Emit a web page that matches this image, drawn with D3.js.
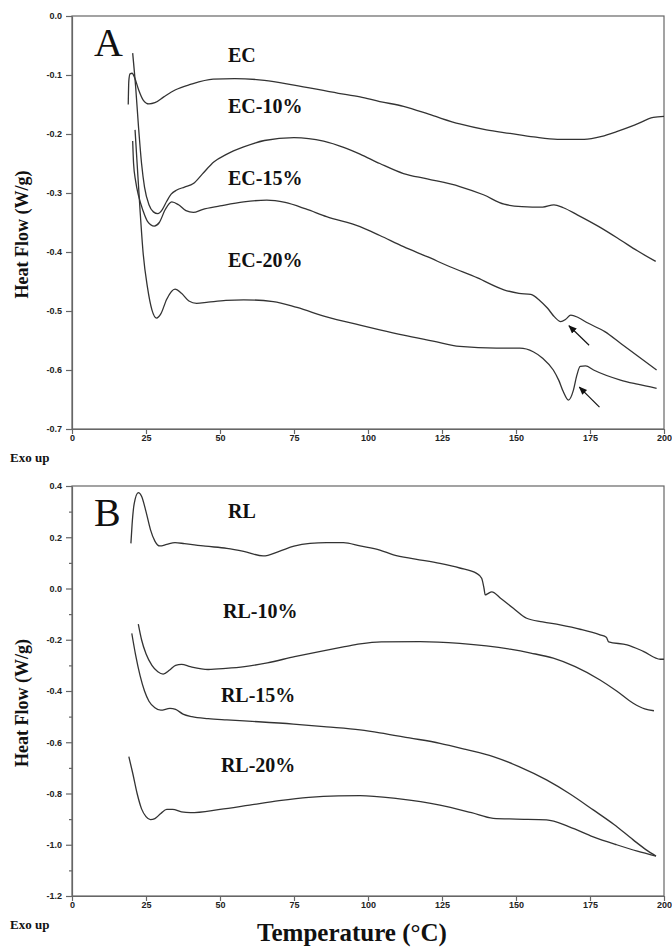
<!DOCTYPE html>
<html>
<head>
<meta charset="utf-8">
<script src="https://cdn.jsdelivr.net/npm/d3@7"></script>
<style>
  body { margin: 0; background: #fff; }
  .tick text { font-family: "Liberation Sans", Arial, sans-serif; font-weight: bold; font-size: 9px; fill: #222; }
  .tick line, .domain { stroke: #666; stroke-width: 1.2; }
  .serif { font-family: "Liberation Serif", "Times New Roman", serif; font-weight: bold; fill: #111; }
</style>
</head>
<body>
<div id="chart"></div>
<script>
// DSC curves, [temperature °C, heat flow W/g]
const ec = [[19.0,-0.150],[19.2,-0.110],[19.6,-0.098],[20.3,-0.097],[21.2,-0.105],[22.5,-0.125],[24,-0.142],[26,-0.149],[28,-0.147],[31,-0.137],[35,-0.125],[40,-0.116],[47.7,-0.107],[55,-0.106],[65,-0.109],[75,-0.117],[90,-0.131],[97.3,-0.137],[104,-0.145],[112,-0.153],[122,-0.169],[131,-0.183],[140,-0.193],[148,-0.199],[156,-0.205],[164,-0.209],[173,-0.209],[179,-0.204],[184,-0.196],[190,-0.185],[196.4,-0.172],[200,-0.170]];
const ec10 = [[20.5,-0.063],[21.5,-0.120],[22.5,-0.190],[23.5,-0.250],[24.5,-0.290],[26,-0.320],[27.5,-0.332],[29,-0.335],[30.5,-0.328],[32,-0.314],[33.5,-0.302],[35.4,-0.295],[38,-0.290],[41,-0.284],[44,-0.268],[48,-0.247],[52,-0.235],[58,-0.222],[65,-0.211],[75,-0.206],[85,-0.212],[92,-0.223],[97.3,-0.234],[104,-0.250],[112,-0.267],[120,-0.276],[131,-0.289],[139,-0.303],[146,-0.319],[152,-0.323],[159,-0.324],[162.8,-0.320],[166,-0.325],[170.7,-0.337],[178,-0.357],[185.4,-0.380],[191,-0.398],[197.2,-0.416]];
const ec15 = [[20.5,-0.212],[20.8,-0.250],[21.5,-0.280],[22.5,-0.305],[24,-0.330],[25.5,-0.348],[27.8,-0.356],[29.5,-0.350],[31.5,-0.328],[33.7,-0.315],[36,-0.320],[38.5,-0.330],[41,-0.333],[44,-0.328],[50,-0.322],[58,-0.315],[65.8,-0.312],[72,-0.316],[79,-0.327],[86,-0.340],[97.3,-0.357],[104,-0.372],[112,-0.391],[120,-0.408],[127.7,-0.425],[137,-0.444],[145.9,-0.464],[151,-0.470],[155,-0.472],[158,-0.482],[160.6,-0.495],[163,-0.510],[165.1,-0.518],[166.8,-0.514],[168.5,-0.507],[171,-0.511],[174.1,-0.520],[180,-0.535],[185.4,-0.555],[191,-0.576],[197.5,-0.600]];
const ec20 = [[21.3,-0.193],[22,-0.250],[23,-0.330],[24,-0.400],[25.5,-0.460],[27,-0.498],[28.6,-0.512],[30,-0.505],[32,-0.480],[34.8,-0.463],[37,-0.470],[39.5,-0.483],[42.1,-0.487],[46,-0.485],[52,-0.482],[58,-0.481],[68,-0.484],[76,-0.494],[86,-0.510],[97.3,-0.524],[104,-0.532],[112,-0.541],[122,-0.551],[131,-0.560],[143.4,-0.563],[151.3,-0.563],[155.8,-0.569],[159,-0.580],[162.6,-0.600],[164.5,-0.618],[166,-0.637],[167.7,-0.651],[169.4,-0.634],[170.5,-0.610],[171.7,-0.594],[173.5,-0.593],[176.2,-0.600],[185.3,-0.617],[191,-0.624],[197.5,-0.631]];

const rl = [[19.9,0.176],[20.3,0.250],[21,0.330],[22.4,0.374],[23.5,0.360],[25,0.300],[26.5,0.230],[28,0.185],[29.7,0.166],[32,0.172],[34.8,0.179],[38,0.175],[45,0.165],[52.3,0.157],[58,0.145],[64.6,0.127],[70,0.145],[75,0.165],[80.4,0.176],[86,0.179],[91.7,0.179],[97.3,0.166],[104,0.150],[108.6,0.131],[116,0.115],[124.3,0.098],[131,0.080],[136.7,0.059],[138.4,0.040],[139.2,0.000],[139.6,-0.025],[140.5,-0.020],[141.8,-0.013],[145,-0.040],[149.1,-0.077],[153.6,-0.116],[159,-0.130],[164.9,-0.142],[172,-0.160],[178.4,-0.181],[180.5,-0.190],[181.3,-0.208],[187.5,-0.220],[193,-0.245],[198.8,-0.276],[200,-0.276]];
const rl10 = [[22.4,-0.139],[23.5,-0.200],[25,-0.255],[27,-0.300],[29,-0.325],[30.8,-0.334],[33,-0.318],[35,-0.300],[37,-0.296],[40,-0.305],[46,-0.316],[52,-0.312],[58.3,-0.305],[66,-0.290],[75.2,-0.266],[84,-0.245],[92.1,-0.227],[97.3,-0.216],[104.5,-0.208],[117.6,-0.207],[131,-0.214],[140,-0.224],[148,-0.237],[155,-0.252],[162.6,-0.272],[170,-0.305],[178.4,-0.357],[184,-0.400],[189.6,-0.448],[193.5,-0.470],[196.6,-0.477]];
const rl15 = [[20.2,-0.175],[21.5,-0.260],[23,-0.340],[24.5,-0.400],[26,-0.440],[28,-0.465],[30,-0.475],[33.1,-0.468],[35,-0.472],[37.5,-0.490],[40.5,-0.500],[46,-0.508],[52.3,-0.513],[63,-0.520],[74.8,-0.529],[86,-0.540],[97.3,-0.552],[104,-0.563],[114,-0.583],[124.3,-0.604],[133,-0.628],[142.3,-0.656],[151,-0.695],[160.3,-0.747],[168,-0.800],[176.1,-0.864],[183,-0.920],[189.6,-0.981],[194,-1.020],[197.3,-1.044]];
const rl20 = [[19.2,-0.656],[20.5,-0.720],[22,-0.800],[23.5,-0.860],[25,-0.890],[26.5,-0.902],[28,-0.898],[30,-0.878],[32,-0.862],[34,-0.862],[37,-0.872],[40,-0.875],[50,-0.862],[60,-0.845],[70,-0.828],[80,-0.815],[90,-0.809],[97.3,-0.808],[110,-0.820],[124.3,-0.845],[135,-0.875],[142.3,-0.897],[150,-0.900],[160.3,-0.903],[168,-0.930],[176.1,-0.969],[184,-1.000],[191,-1.025],[197.3,-1.044]];

// labels placed in data coords
const labelsA = [["EC", 52.7, -0.078], ["EC-10%", 52.7, -0.164], ["EC-15%", 52.7, -0.286], ["EC-20%", 52.7, -0.425]];
const labelsB = [["RL", 52.7, 0.275], ["RL-10%", 51, -0.115], ["RL-15%", 50.3, -0.443], ["RL-20%", 50.3, -0.716]];
// arrows [tailT, tailV, headT, headV]
const arrowsA = [[174.7, -0.558, 167.9, -0.525], [178.2, -0.663, 171.4, -0.629]];

const xTicks = [0, 25, 50, 75, 100, 125, 150, 175, 200];
const yTicksA = [0, -0.1, -0.2, -0.3, -0.4, -0.5, -0.6, -0.7];
const yTicksB = [0.4, 0.2, 0, -0.2, -0.4, -0.6, -0.8, -1.0, -1.2];
const yMinorB = [0.3, 0.1, -0.1, -0.3, -0.5, -0.7, -0.9, -1.1];

const W = 672, H = 947;
const left = 72, right = 664;

const svg = d3.select('#chart').append('svg')
  .attr('width', W).attr('height', H);

svg.append('defs').append('marker')
  .attr('id', 'head')
  .attr('viewBox', '0 0 10 10')
  .attr('refX', 9).attr('refY', 5)
  .attr('markerWidth', 7).attr('markerHeight', 7)
  .attr('orient', 'auto')
  .append('path').attr('d', 'M0,1 L10,5 L0,9 Z').attr('fill', '#111');

const x = d3.scaleLinear().domain([0, 200]).range([left, right]);

const panel = (top, bottom, yDomain, yTicks, series, labels, letter, minor) => {
  const y = d3.scaleLinear().domain(yDomain).range([bottom, top]);
  const g = svg.append('g');

  // frame
  g.append('rect')
    .attr('x', left).attr('y', top)
    .attr('width', right - left).attr('height', bottom - top)
    .attr('fill', 'none').attr('stroke', '#666').attr('stroke-width', 1.2);

  g.append('g')
    .attr('transform', `translate(${left},0)`)
    .call(d3.axisLeft(y).tickValues(yTicks).tickSize(6).tickSizeOuter(0)
      .tickFormat((d) => d.toFixed(1)))
    .call((a) => a.selectAll('.tick text').attr('dx', -1));

  if (minor) {
    g.append('g')
      .attr('transform', `translate(${left},0)`)
      .call(d3.axisLeft(y).tickValues(minor).tickSize(3).tickFormat(''))
      .call((a) => a.select('.domain').remove());
  }

  g.append('g')
    .attr('transform', `translate(0,${bottom})`)
    .call(d3.axisBottom(x).tickValues(xTicks).tickSize(5).tickSizeOuter(0)
      .tickFormat(d3.format('d')))
    .call((a) => a.selectAll('.tick text').attr('dy', '0.45em'));

  const line = d3.line()
    .x((d) => x(d[0]))
    .y((d) => y(d[1]))
    .curve(d3.curveMonotoneX);

  g.selectAll('path.curve')
    .data(series)
    .enter()
    .append('path')
    .attr('class', 'curve')
    .attr('d', line)
    .attr('fill', 'none')
    .attr('stroke', '#333')
    .attr('stroke-width', 1.3);

  g.selectAll('text.lab')
    .data(labels)
    .enter()
    .append('text')
    .attr('class', 'lab serif')
    .attr('x', (d) => x(d[1]))
    .attr('y', (d) => y(d[2]))
    .attr('font-size', 20)
    .text((d) => d[0]);

  g.append('text')
    .attr('class', 'serif')
    .attr('x', left + 22).attr('y', top + 40)
    .attr('font-size', 40)
    .style('font-weight', 'normal')
    .text(letter);

  g.append('text')
    .attr('class', 'serif')
    .attr('transform', `translate(28,${(top + bottom) / 2 + 12}) rotate(-90)`)
    .attr('text-anchor', 'middle')
    .attr('font-size', 18)
    .text('Heat Flow (W/g)');

  g.append('text')
    .attr('class', 'serif')
    .attr('x', 10).attr('y', bottom + 33)
    .attr('font-size', 13)
    .text('Exo up');

  return y;
};

const yA = panel(16, 429, [-0.7, 0], yTicksA, [ec, ec10, ec15, ec20], labelsA, 'A', null);
panel(486, 896, [-1.2, 0.4], yTicksB, [rl, rl10, rl15, rl20], labelsB, 'B', yMinorB);

svg.selectAll('line.arrow')
  .data(arrowsA)
  .enter()
  .append('line')
  .attr('class', 'arrow')
  .attr('x1', (d) => x(d[0])).attr('y1', (d) => yA(d[1]))
  .attr('x2', (d) => x(d[2])).attr('y2', (d) => yA(d[3]))
  .attr('stroke', '#111').attr('stroke-width', 1.2)
  .attr('marker-end', 'url(#head)');

svg.append('text')
  .attr('class', 'serif')
  .attr('x', 352).attr('y', 941)
  .attr('text-anchor', 'middle')
  .attr('font-size', 25)
  .text('Temperature (°C)');
</script>
</body>
</html>
